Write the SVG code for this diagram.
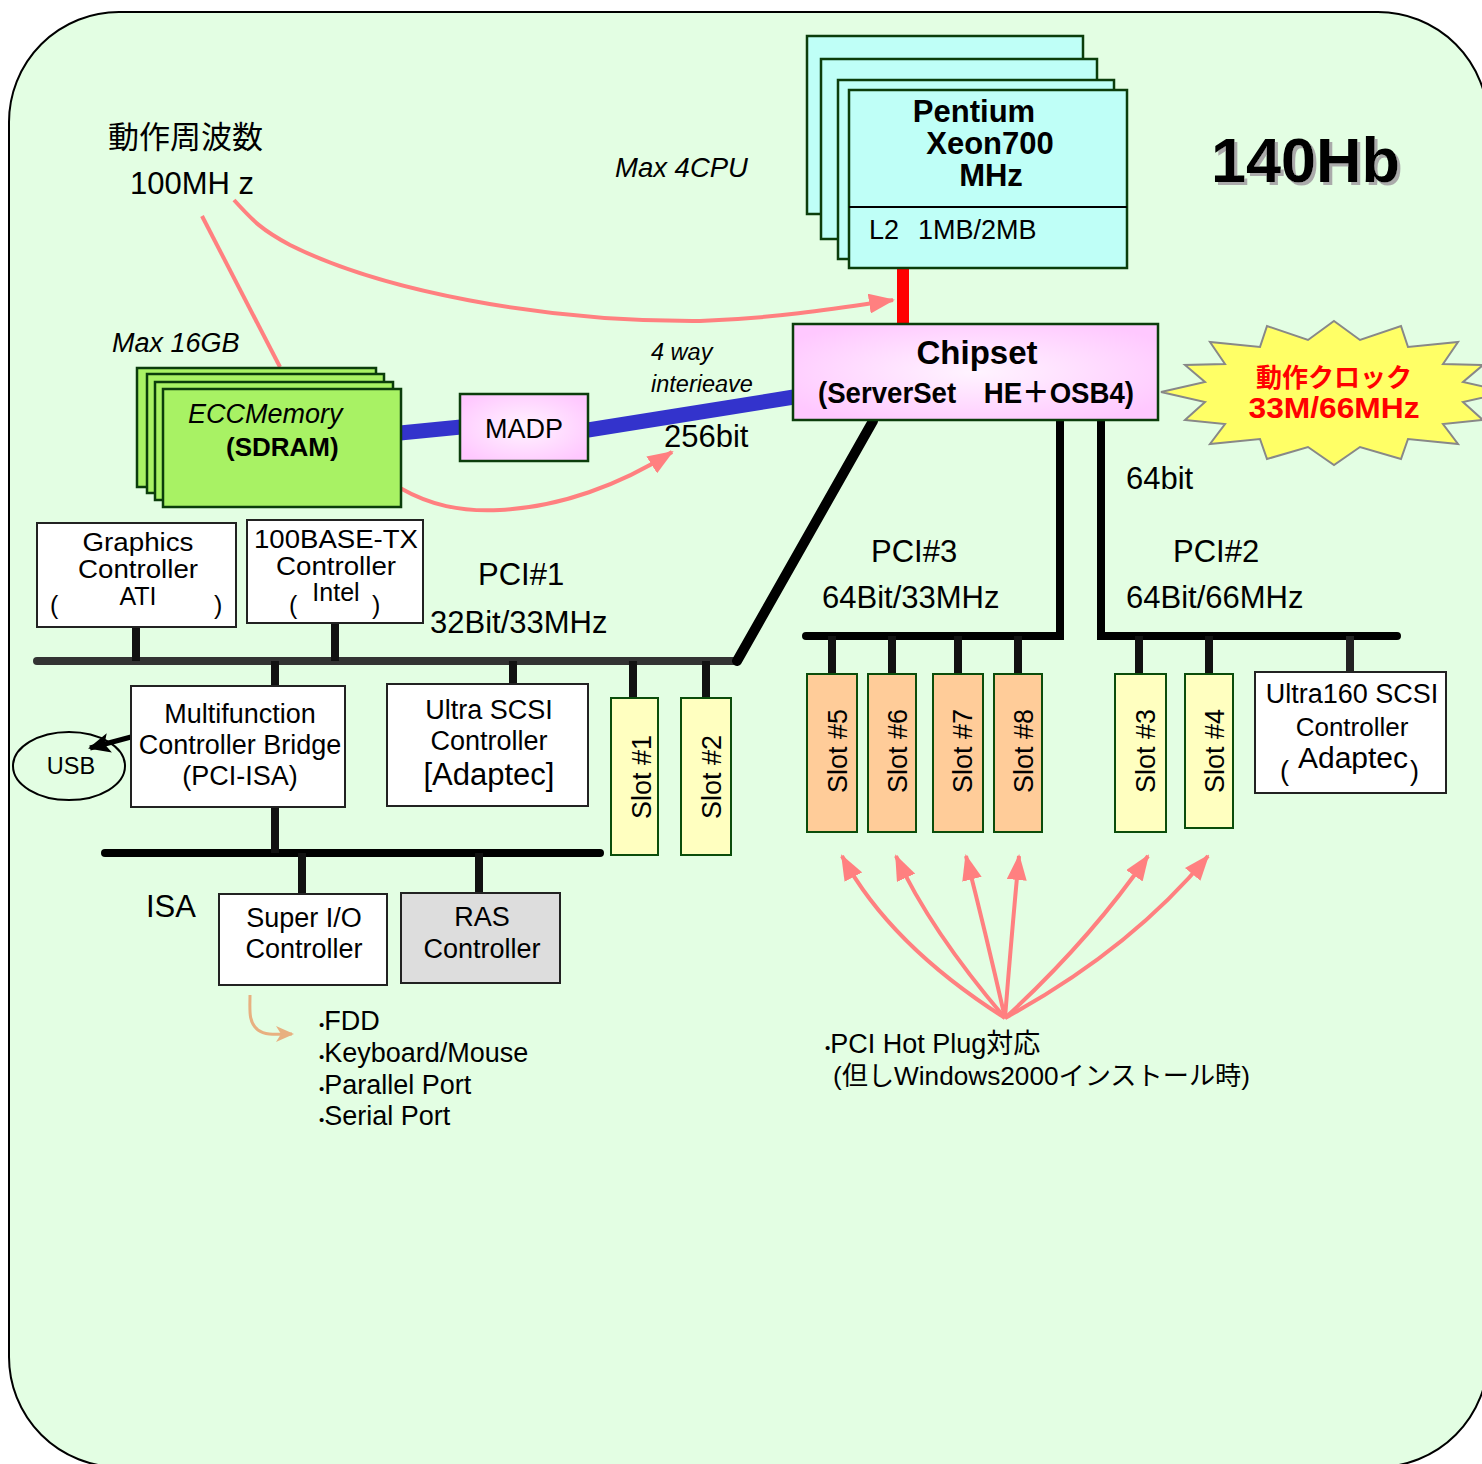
<svg xmlns="http://www.w3.org/2000/svg" width="1482" height="1464" viewBox="0 0 1482 1464">
<defs>
<style>
text{font-family:"Liberation Sans","Noto Sans CJK JP",sans-serif;fill:#000;}
.wb{fill:#fff;stroke:#222;stroke-width:2;}
.cpu{fill:#BFFFF7;stroke:#0b3d0b;stroke-width:2.5;}
.mem{fill:#A8F264;stroke:#0b3d0b;stroke-width:2.5;}
.ys{fill:#FFFFC0;stroke:#0b4d0b;stroke-width:2;}
.os{fill:#FFCC99;stroke:#0b4d0b;stroke-width:2;}
.bus{stroke:#000;stroke-width:8;fill:none;stroke-linecap:round;}
.gbus{stroke:#333;stroke-width:8;fill:none;stroke-linecap:round;}
.stub{stroke:#111;stroke-width:8;fill:none;}
.pk{stroke:#FF8080;stroke-width:4;fill:none;}
.blue{stroke:#3333CC;stroke-width:15;stroke-linecap:round;fill:none;}
.t25{font-size:25px;}
.t27{font-size:27px;}
.t31{font-size:31px;}
.it{font-style:italic;}
.b{font-weight:bold;}
.mid{text-anchor:middle;}
.dot{font-size:15px;}
</style>
<radialGradient id="pinkg" cx="50%" cy="50%" r="60%">
<stop offset="0" stop-color="#FFF4FF"/>
<stop offset="1" stop-color="#FFC8FF"/>
</radialGradient>
<filter id="shadow" x="-10%" y="-10%" width="130%" height="130%">
<feOffset in="SourceAlpha" dx="3" dy="3" result="off"/>
<feFlood flood-color="#aaaaaa"/>
<feComposite in2="off" operator="in" result="sh"/>
<feMerge><feMergeNode in="sh"/><feMergeNode in="SourceGraphic"/></feMerge>
</filter>
<marker id="pa" markerUnits="userSpaceOnUse" markerWidth="26" markerHeight="20" viewBox="0 0 26 20" refX="24" refY="10" orient="auto">
<path d="M0,0 L26,10 L0,20 z" fill="#FF8080"/>
</marker>
<marker id="ba" markerUnits="userSpaceOnUse" markerWidth="22" markerHeight="20" viewBox="0 0 22 20" refX="20" refY="10" orient="auto">
<path d="M0,0 L22,10 L0,20 L5,10 z" fill="#000"/>
</marker>
<marker id="ta" markerUnits="userSpaceOnUse" markerWidth="18" markerHeight="16" viewBox="0 0 18 16" refX="16" refY="8" orient="auto">
<path d="M0,0 L18,8 L0,16 L5,8 z" fill="#E8B080"/>
</marker>
</defs>

<rect id="background" x="9" y="12" width="1479" height="1455" rx="110" fill="#E3FEE3" stroke="#000" stroke-width="2"/>

<g id="connectors">
<path class="pk" d="M234,200 C254,222 262,230 290,245 C380,290 540,322 700,321 C780,318 840,308 893,300" marker-end="url(#pa)"/>
<line class="pk" x1="202" y1="216" x2="280" y2="367"/>
<path class="pk" d="M400,488 C430,505 460,512 500,510 C560,507 620,485 672,452" marker-end="url(#pa)"/>
<line x1="903" y1="268" x2="903" y2="325" stroke="#FF0000" stroke-width="12"/>
<line class="blue" x1="400" y1="433" x2="461" y2="427"/>
<line x1="588" y1="430" x2="794" y2="397" stroke="#3333CC" stroke-width="15"/>
<path class="gbus" d="M37,661 H737"/>
<line x1="737" y1="661" x2="873" y2="421" stroke="#000" stroke-width="10" stroke-linecap="round"/>
<line class="stub" x1="136" y1="627" x2="136" y2="661"/>
<line class="stub" x1="335" y1="623" x2="335" y2="661"/>
<line class="stub" x1="275" y1="661" x2="275" y2="686"/>
<line class="stub" x1="513" y1="661" x2="513" y2="685"/>
<line class="stub" x1="633" y1="661" x2="633" y2="698"/>
<line class="stub" x1="706" y1="661" x2="706" y2="698"/>
<line x1="131" y1="737" x2="90" y2="748" stroke="#000" stroke-width="5" marker-end="url(#ba)"/>
<path class="bus" d="M105,853 H600"/>
<line class="stub" x1="275" y1="807" x2="275" y2="853"/>
<line class="stub" x1="302" y1="853" x2="302" y2="894"/>
<line class="stub" x1="479" y1="853" x2="479" y2="893"/>
<path class="bus" d="M806,636 H1060 V421" stroke-linejoin="miter"/>
<path class="bus" d="M1101,421 V636 H1397" stroke-linejoin="miter"/>
<line class="stub" x1="832" y1="636" x2="832" y2="674"/>
<line class="stub" x1="892" y1="636" x2="892" y2="674"/>
<line class="stub" x1="958" y1="636" x2="958" y2="674"/>
<line class="stub" x1="1018" y1="636" x2="1018" y2="674"/>
<line class="stub" x1="1139" y1="636" x2="1139" y2="674"/>
<line class="stub" x1="1209" y1="636" x2="1209" y2="674"/>
<line x1="1350" y1="636" x2="1350" y2="672" stroke="#222" stroke-width="8"/>
<path d="M250,995 C250,1010 248,1022 258,1030 C266,1036 278,1034 292,1034" stroke="#E8B080" stroke-width="3" fill="none" marker-end="url(#ta)"/>
<path class="pk" d="M1005,1018 Q890,945 842,856" marker-end="url(#pa)"/>
<path class="pk" d="M1005,1018 Q930,930 896,856" marker-end="url(#pa)"/>
<path class="pk" d="M1005,1018 Q985,930 966,856" marker-end="url(#pa)"/>
<path class="pk" d="M1005,1018 Q1012,930 1019,856" marker-end="url(#pa)"/>
<path class="pk" d="M1005,1018 Q1090,940 1148,856" marker-end="url(#pa)"/>
<path class="pk" d="M1005,1018 Q1130,950 1208,856" marker-end="url(#pa)"/>
</g>

<g id="title">
<text x="1211" y="182" class="b" font-size="63" filter="url(#shadow)">140Hb</text>
</g>

<g id="freq-label">
<text x="108" y="148" font-size="31">動作周波数</text>
<text x="130" y="194" font-size="31">100MH z</text>
</g>

<text id="max4cpu" x="615" y="177" class="it" font-size="27.5">Max 4CPU</text>
<text id="max16gb" x="112" y="352" class="it" font-size="27">Max 16GB</text>

<g id="cpu">
<rect class="cpu" x="807" y="36" width="276" height="178"/>
<rect class="cpu" x="821" y="59" width="276" height="180"/>
<rect class="cpu" x="838" y="80" width="276" height="179"/>
<rect class="cpu" x="849" y="90" width="278" height="178"/>
<line x1="849" y1="207" x2="1127" y2="207" stroke="#000" stroke-width="2"/>
<text class="b mid" font-size="31"><tspan x="974" y="122">Pentium</tspan><tspan x="990" y="154">Xeon700</tspan><tspan x="991" y="186">MHz</tspan></text>
<text font-size="27"><tspan x="869" y="239">L2</tspan><tspan x="918" y="239">1MB/2MB</tspan></text>
</g>

<g id="chipset">
<rect x="793" y="324" width="365" height="96" fill="url(#pinkg)" stroke="#0b3d0b" stroke-width="2.5"/>
<text x="977" y="364" class="b mid" font-size="33">Chipset</text>
<text x="818" y="403" class="b" font-size="29" textLength="316" lengthAdjust="spacingAndGlyphs">(ServerSet　HE＋OSB4)</text>
</g>

<g id="clock-burst">
<polygon transform="translate(1334,393)" fill="#FFFF66" stroke="#888" stroke-width="2" points="0,-72 26,-53 67,-67 74,-46 124,-51 109,-29 149,-28 129,-11 173,-1 129,9 149,27 109,31 124,51 74,46 67,66 26,54 0,72 -26,54 -67,66 -74,46 -124,51 -109,31 -149,27 -129,9 -173,-1 -129,-11 -149,-28 -109,-29 -124,-51 -74,-46 -67,-67 -26,-53"/>
<text x="1334" y="387" class="b mid" font-size="26" style="fill:#FF0000">動作クロック</text>
<text x="1334" y="418" class="b mid" font-size="30" textLength="171" lengthAdjust="spacingAndGlyphs" style="fill:#FF0000">33M/66MHz</text>
</g>

<g id="memory">
<rect class="mem" x="137" y="368" width="239" height="119"/>
<rect class="mem" x="147" y="374" width="237" height="119"/>
<rect class="mem" x="155" y="382" width="238" height="118"/>
<rect class="mem" x="163" y="389" width="238" height="118"/>
<text x="188" y="423" class="it" font-size="27">ECCMemory</text>
<text x="226" y="456" class="b" font-size="26">(SDRAM)</text>
</g>

<g id="madp">
<rect x="460" y="394" width="128" height="67" fill="url(#pinkg)" stroke="#0b3d0b" stroke-width="2.5"/>
<text x="524" y="438" class="mid" font-size="27">MADP</text>
</g>

<g id="mem-bus-labels">
<text class="it" font-size="23.5"><tspan x="651" y="360">4 way</tspan><tspan x="651" y="392">interieave</tspan></text>
<text x="664" y="447" font-size="31">256bit</text>
</g>

<g id="graphics">
<rect class="wb" x="37" y="523" width="199" height="104"/>
<text class="t25"><tspan x="138" y="551" text-anchor="middle" textLength="111" lengthAdjust="spacingAndGlyphs">Graphics</tspan><tspan x="138" y="578" text-anchor="middle" textLength="120" lengthAdjust="spacingAndGlyphs">Controller</tspan><tspan x="50" y="614">(</tspan><tspan x="138" y="605" text-anchor="middle">ATI</tspan><tspan x="214" y="614">)</tspan></text>
</g>

<g id="lan">
<rect class="wb" x="247" y="520" width="176" height="103"/>
<text class="t25"><tspan x="254" y="548" textLength="164" lengthAdjust="spacingAndGlyphs">100BASE-TX</tspan><tspan x="336" y="575" text-anchor="middle" textLength="120" lengthAdjust="spacingAndGlyphs">Controller</tspan><tspan x="289" y="614">(</tspan><tspan x="336" y="601" text-anchor="middle">Intel</tspan><tspan x="372" y="614">)</tspan></text>
</g>

<g id="pci1-label">
<text class="t31"><tspan x="478" y="585">PCI#1</tspan><tspan x="430" y="633">32Bit/33MHz</tspan></text>
</g>

<g id="multifunction">
<rect class="wb" x="131" y="686" width="214" height="121"/>
<text class="mid t27"><tspan x="240" y="723">Multifunction</tspan><tspan x="240" y="754">Controller Bridge</tspan><tspan x="240" y="785">(PCI-ISA)</tspan></text>
</g>

<g id="usb">
<ellipse cx="69" cy="766" rx="56" ry="34" fill="none" stroke="#000" stroke-width="2"/>
<text x="71" y="774" class="mid" font-size="23.5">USB</text>
</g>

<g id="ultra-scsi">
<rect class="wb" x="387" y="684" width="201" height="122"/>
<text class="mid t27"><tspan x="489" y="719">Ultra SCSI</tspan><tspan x="489" y="750">Controller</tspan><tspan x="489" y="785" font-size="31">[Adaptec]</tspan></text>
</g>

<g id="slot1">
<rect class="ys" x="611" y="698" width="47" height="157"/>
<text transform="translate(651,777) rotate(-90)" class="mid t27">Slot #1</text>
</g>
<g id="slot2">
<rect class="ys" x="681" y="698" width="50" height="157"/>
<text transform="translate(721,777) rotate(-90)" class="mid t27">Slot #2</text>
</g>

<g id="pci3-label">
<text class="t31"><tspan x="871" y="562">PCI#3</tspan><tspan x="822" y="608">64Bit/33MHz</tspan></text>
</g>

<g id="slot5">
<rect class="os" x="807" y="674" width="50" height="158"/>
<text transform="translate(847,751) rotate(-90)" class="mid t27">Slot #5</text>
</g>
<g id="slot6">
<rect class="os" x="868" y="674" width="48" height="158"/>
<text transform="translate(907,751) rotate(-90)" class="mid t27">Slot #6</text>
</g>
<g id="slot7">
<rect class="os" x="933" y="674" width="50" height="158"/>
<text transform="translate(972,751) rotate(-90)" class="mid t27">Slot #7</text>
</g>
<g id="slot8">
<rect class="os" x="994" y="674" width="48" height="158"/>
<text transform="translate(1033,751) rotate(-90)" class="mid t27">Slot #8</text>
</g>

<text id="bit64" x="1126" y="489" class="t31">64bit</text>

<g id="pci2-label">
<text class="t31"><tspan x="1173" y="562">PCI#2</tspan><tspan x="1126" y="608">64Bit/66MHz</tspan></text>
</g>

<g id="slot3">
<rect class="ys" x="1115" y="674" width="51" height="158"/>
<text transform="translate(1155,751) rotate(-90)" class="mid t27">Slot #3</text>
</g>
<g id="slot4">
<rect class="ys" x="1185" y="674" width="48" height="154"/>
<text transform="translate(1224,751) rotate(-90)" class="mid t27">Slot #4</text>
</g>

<g id="ultra160">
<rect class="wb" x="1255" y="672" width="191" height="121"/>
<text class="t27"><tspan x="1352" y="703" text-anchor="middle">Ultra160 SCSI</tspan><tspan x="1352" y="736" text-anchor="middle" font-size="26">Controller</tspan><tspan x="1280" y="780">(</tspan><tspan x="1353" y="768" text-anchor="middle" font-size="30">Adaptec</tspan><tspan x="1410" y="780">)</tspan></text>
</g>

<text id="isa-label" x="146" y="917" class="t31">ISA</text>

<g id="super-io">
<rect class="wb" x="219" y="894" width="168" height="91"/>
<text class="mid t27"><tspan x="304" y="927">Super I/O</tspan><tspan x="304" y="958">Controller</tspan></text>
</g>

<g id="ras">
<rect x="401" y="893" width="159" height="90" fill="#DDDDDD" stroke="#222" stroke-width="2"/>
<text class="mid t27"><tspan x="482" y="926">RAS</tspan><tspan x="482" y="958">Controller</tspan></text>
</g>

<g id="io-list">
<text class="t27"><tspan x="319" y="1030"><tspan class="dot">•</tspan>FDD</tspan><tspan x="319" y="1062"><tspan class="dot">•</tspan>Keyboard/Mouse</tspan><tspan x="319" y="1094"><tspan class="dot">•</tspan>Parallel Port</tspan><tspan x="319" y="1125"><tspan class="dot">•</tspan>Serial Port</tspan></text>
</g>

<g id="hotplug-note">
<text class="t27"><tspan x="825" y="1053"><tspan class="dot">•</tspan>PCI Hot Plug対応</tspan><tspan x="833" y="1085" font-size="26" textLength="417" lengthAdjust="spacingAndGlyphs">(但しWindows2000インストール時)</tspan></text>
</g>
</svg>
